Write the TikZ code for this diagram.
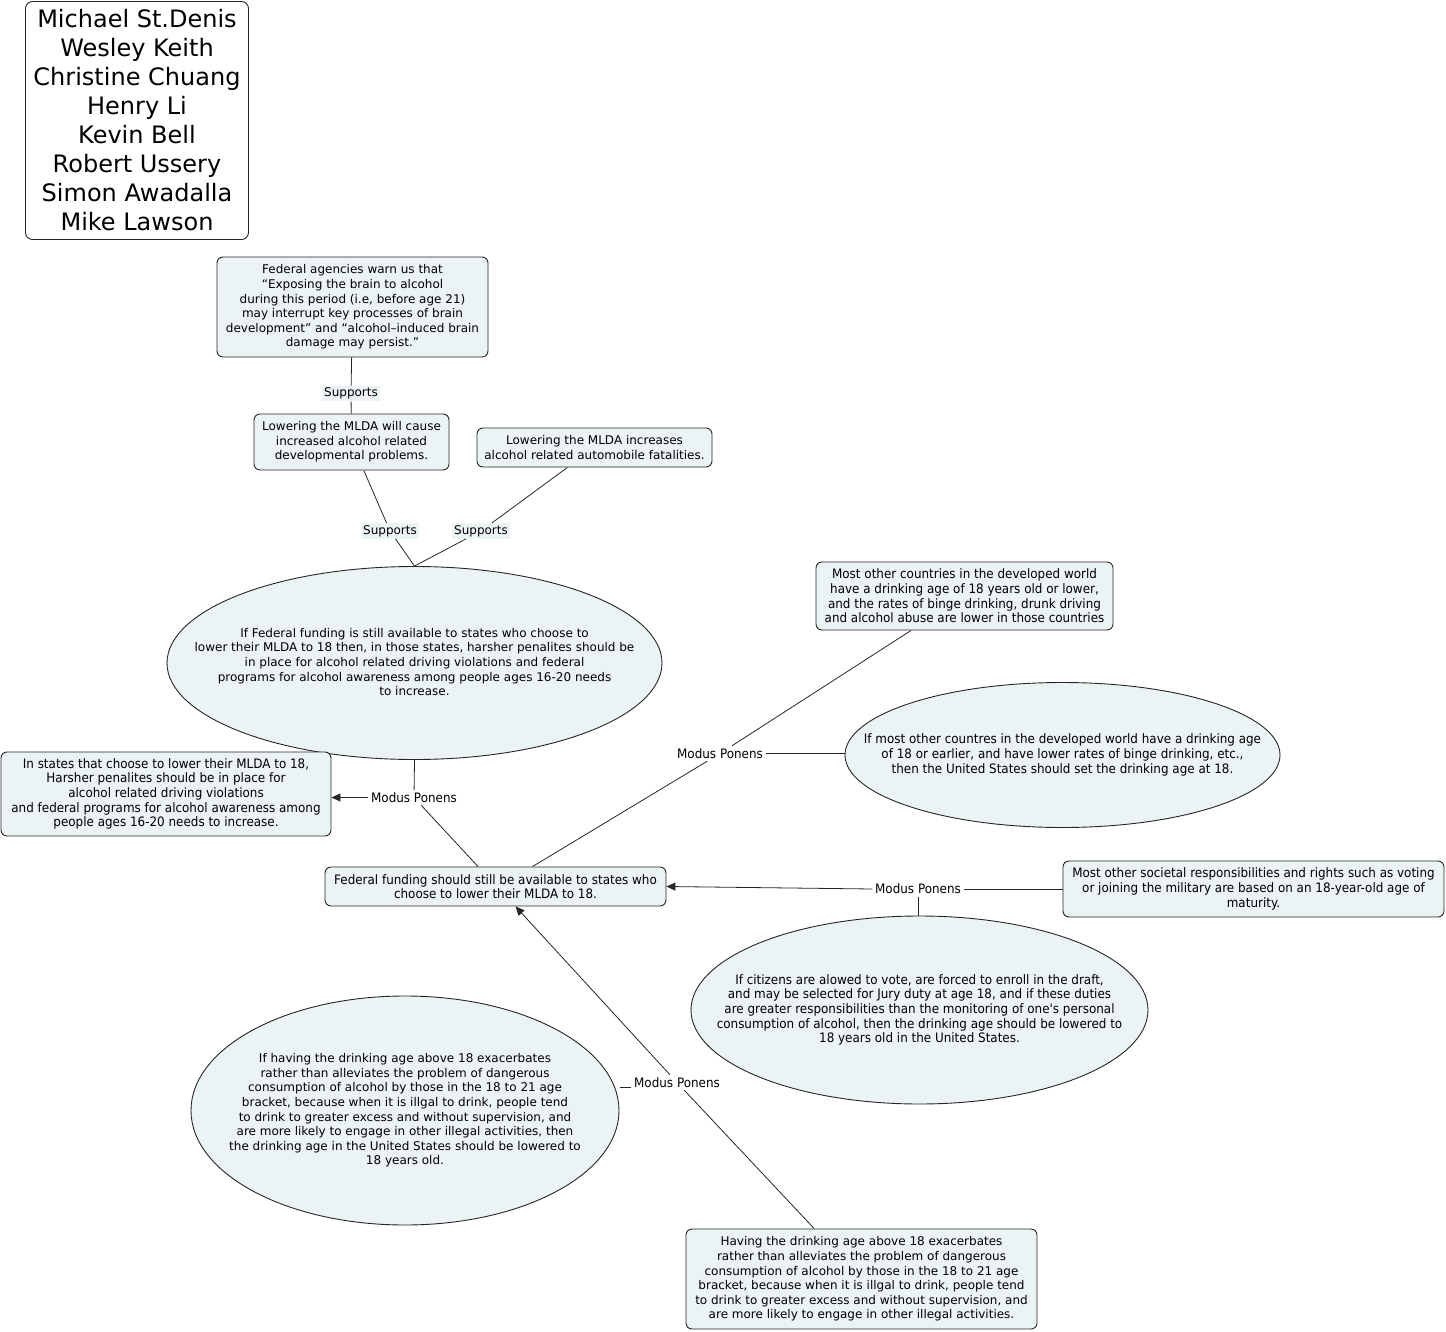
\documentclass[tikz,border=0pt]{standalone}
\usepackage{fontspec}
\setmainfont{DejaVu Sans}
\newfontfamily\narfont[FakeStretch=0.92]{DejaVu Sans}
\usetikzlibrary{shapes.geometric,arrows.meta}
\definecolor{boxfill}{RGB}{235,243,245}
\tikzset{
  x=1pt,y=-1pt,
  box/.style={draw=black!85,line width=0.9pt,rounded corners=6pt,fill=boxfill,inner sep=0pt,align=center,font=\fontsize{12}{14.6}\selectfont},
  nbox/.style={box,font=\narfont\fontsize{13}{14.6}\selectfont},
  ell/.style={draw=black!85,line width=0.9pt,ellipse,fill=boxfill,inner sep=0pt},
  etxt/.style={align=center,inner sep=0pt,font=\fontsize{12}{14.6}\selectfont},
  netxt/.style={align=center,inner sep=0pt,font=\narfont\fontsize{13}{14.6}\selectfont},
  suplab/.style={fill=boxfill,inner sep=2pt,font=\fontsize{12}{14}\selectfont},
  mplab/.style={inner sep=2.5pt,font=\narfont\fontsize{13}{14}\selectfont},
  conn/.style={draw=black!85,line width=0.8pt},
  arr/.style={conn,-{Triangle[length=9pt,width=8pt]}}
}
\begin{document}
\begin{tikzpicture}
\useasboundingbox (0,0) rectangle (1446,1332);

% names
\node[draw=black!85,line width=0.9pt,rounded corners=7pt,fill=white,inner sep=0pt,align=center,
  minimum width=223,minimum height=238,font=\fontsize{24}{29}\selectfont] (names) at (137,120.5)
  {Michael St.Denis\\Wesley Keith\\Christine Chuang\\Henry Li\\Kevin Bell\\Robert Ussery\\Simon Awadalla\\Mike Lawson};

% top boxes
\node[box,minimum width=271,minimum height=100] (fed) at (352.5,307)
  {Federal agencies warn us that\\“Exposing the brain to alcohol\\during this period (i.e, before age 21)\\may interrupt key processes of brain\\development” and “alcohol–induced brain\\damage may persist.”};
\node[box,minimum width=195,minimum height=56] (lowdev) at (351.5,442)
  {Lowering the MLDA will cause\\increased alcohol related\\developmental problems.};
\node[box,minimum width=235,minimum height=39] (auto) at (594.5,447.5)
  {Lowering the MLDA increases\\alcohol related automobile fatalities.};

% ellipse 1
\node[ell,minimum width=495,minimum height=193] (e1) at (414.5,663) {};
\node[etxt] (e1t) at ([yshift=1]e1.center)
  {If Federal funding is still available to states who choose to\\lower their MLDA to 18 then, in those states, harsher penalites should be\\in place for alcohol related driving violations and federal\\programs for alcohol awareness among people ages 16-20 needs\\to increase.};

% harsher
\node[nbox,minimum width=330,minimum height=84] (harsh) at (166,794)
  {In states that choose to lower their MLDA to 18,\\Harsher penalites should be in place for\\alcohol related driving violations\\and federal programs for alcohol awareness among\\people ages 16-20 needs to increase.};

% fedfund
\node[nbox,minimum width=341,minimum height=39] (ff) at (495.5,886.5)
  {Federal funding should still be available to states who\\choose to lower their MLDA to 18.};

% countries
\node[nbox,minimum width=297,minimum height=68] (ctry) at (964.5,596)
  {Most other countries in the developed world\\have a drinking age of 18 years old or lower,\\and the rates of binge drinking, drunk driving\\and alcohol abuse are lower in those countries};

% ellipse 2
\node[ell,minimum width=435,minimum height=145] (e2) at (1062.5,755) {};
\node[netxt] (e2t) at (e2.center)
  {If most other countres in the developed world have a drinking age\\of 18 or earlier, and have lower rates of binge drinking, etc.,\\then the United States should set the drinking age at 18.};

% societal
\node[nbox,minimum width=381,minimum height=56] (soc) at (1253.5,889)
  {Most other societal responsibilities and rights such as voting\\or joining the military are based on an 18-year-old age of\\maturity.};

% ellipse 3
\node[ell,minimum width=457,minimum height=188] (e3) at (919.5,1010) {};
\node[netxt] (e3t) at (e3.center)
  {If citizens are alowed to vote, are forced to enroll in the draft,\\and may be selected for Jury duty at age 18, and if these duties\\are greater responsibilities than the monitoring of one's personal\\consumption of alcohol, then the drinking age should be lowered to\\18 years old in the United States.};

% ellipse 4
\node[ell,minimum width=428,minimum height=229] (e4) at (405,1110.5) {};
\node[etxt] (e4t) at (e4.center)
  {If having the drinking age above 18 exacerbates\\rather than alleviates the problem of dangerous\\consumption of alcohol by those in the 18 to 21 age\\bracket, because when it is illgal to drink, people tend\\to drink to greater excess and without supervision, and\\are more likely to engage in other illegal activities, then\\the drinking age in the United States should be lowered to\\18 years old.};

% having
\node[box,minimum width=351,minimum height=100] (hav) at (861.5,1279)
  {Having the drinking age above 18 exacerbates\\rather than alleviates the problem of dangerous\\consumption of alcohol by those in the 18 to 21 age\\bracket, because when it is illgal to drink, people tend\\to drink to greater excess and without supervision, and\\are more likely to engage in other illegal activities.};

% labels
\node[suplab] (s1) at (351,393.5) {Supports};
\node[suplab] (s2) at (390,531) {Supports};
\node[suplab] (s3) at (481,531) {Supports};
\node[mplab] (m1) at (414,797.5) {Modus Ponens};
\node[mplab] (m2) at (720,753.5) {Modus Ponens};
\node[mplab] (m3) at (918,889) {Modus Ponens};
\node[mplab] (m4) at (677,1082.5) {Modus Ponens};

% connectors
\draw[conn] (fed) -- (s1);
\draw[conn] (s1) -- (lowdev);
\draw[conn] (lowdev) -- (s2);
\draw[conn] (s2) -- (e1.north);
\draw[conn] (auto) -- (s3);
\draw[conn] (s3) -- (e1.north);

\draw[conn] (e1.south) -- (m1);
\draw[arr] (m1.west) -- (m1.west -| harsh.east);
\draw[conn] (m1) -- ([xshift=-17.5]ff.north);

\draw[conn] (ctry) -- (m2);
\draw[conn] (m2) -- ([xshift=37]ff.north);
\draw[conn] (m2.east) -- (m2.east -| e2.west);

\draw[arr] (m3.west) -- (ff.east);
\draw[conn] (m3.east) -- (soc.west);
\draw[conn] (m3.south) -- (m3.south |- e3.north);

\draw[conn] (hav) -- (m4);
\draw[arr] (m4) -- ([xshift=20]ff.south);
\draw[conn] (m4.base west) -- ([xshift=1]m4.base west -| e4.east);
\end{tikzpicture}
\end{document}
